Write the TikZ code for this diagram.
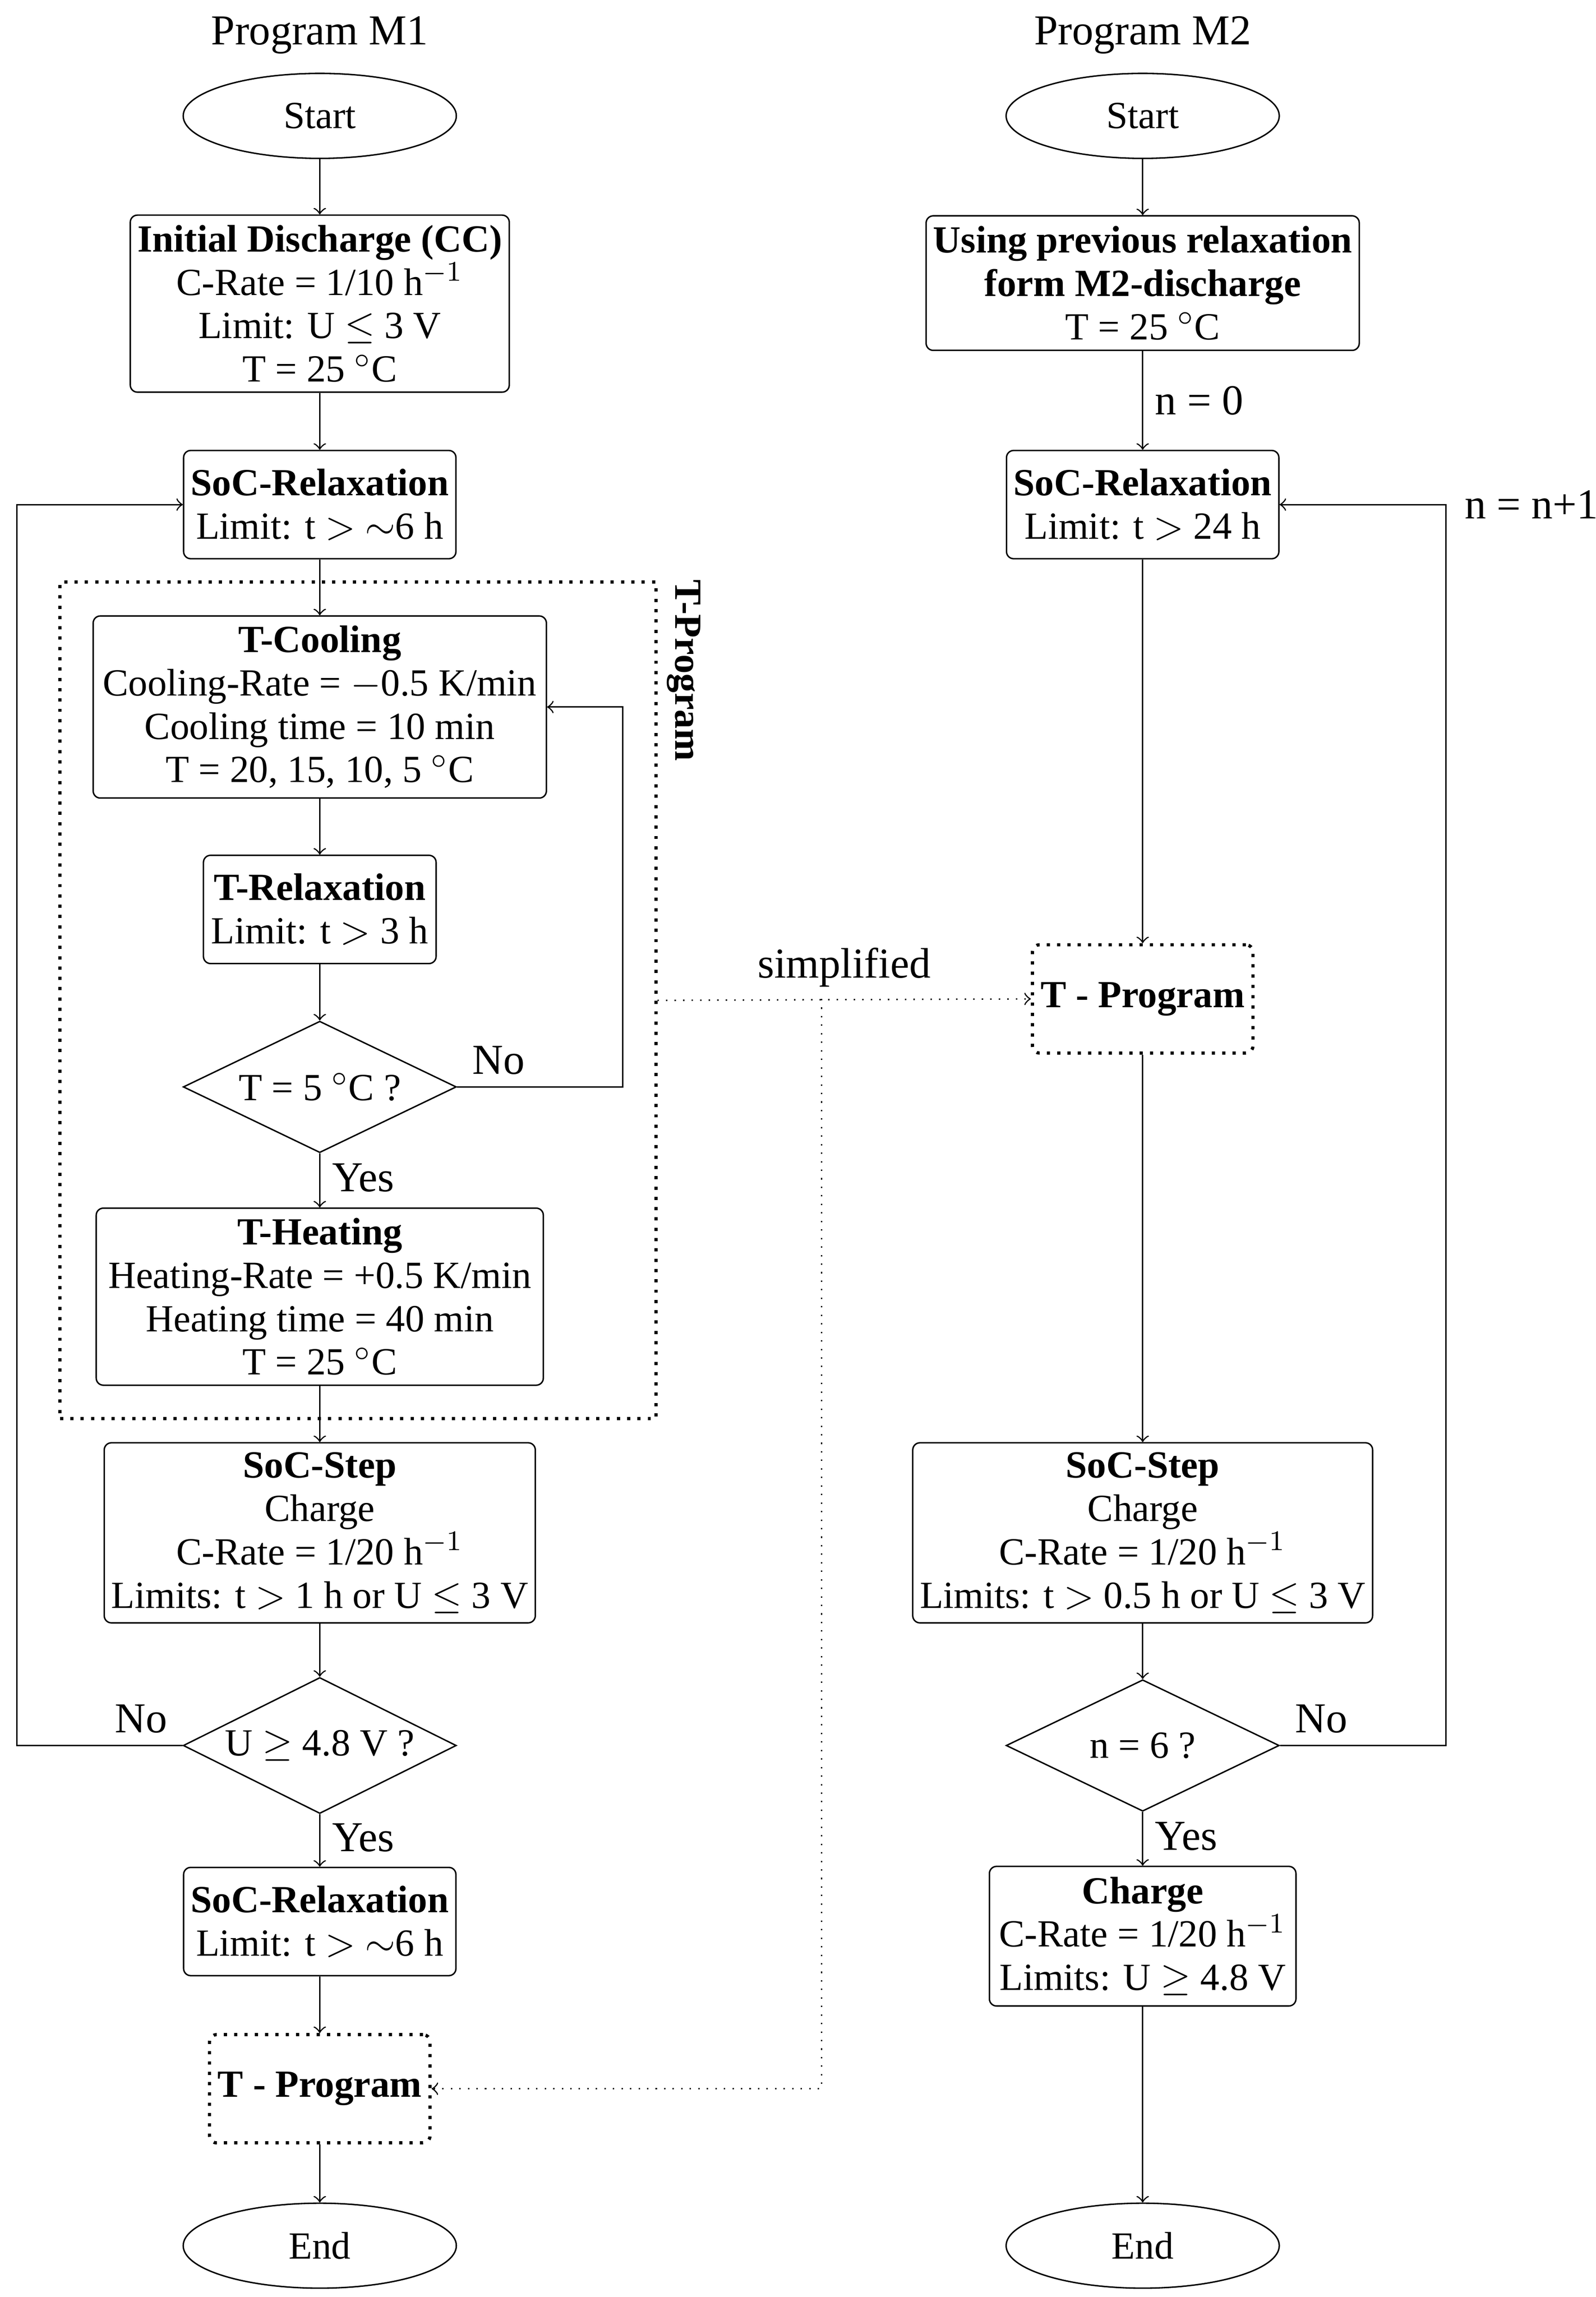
\documentclass[tikz,border=0pt]{standalone}
\usepackage{amsmath,amssymb}
\usepackage{fontspec}
\setmainfont{Liberation Serif}
\usepackage{tikz}
\usetikzlibrary{arrows,shapes.geometric,calc}

\begin{document}
\begin{tikzpicture}[x=0.145mm,y=-0.145mm,>=to,
  every node/.style={font=\fontsize{10.8}{12.2}\selectfont},
  box/.style={draw,rectangle,rounded corners=2pt,align=center,inner sep=2pt},
  dec/.style={draw,diamond,aspect=2,inner sep=1pt,minimum width=27mm,minimum height=13mm},
  term/.style={draw,ellipse,minimum width=27mm,minimum height=8.4mm},
  tbox/.style={box,dotted,line width=0.9pt,minimum width=21.8mm,minimum height=10.7mm,font=\fontsize{10.8}{12}\selectfont\bfseries},
  lbl/.style={font=\fontsize{12}{14}\selectfont}]
\useasboundingbox (0,0) rectangle (1088,1566);
%% Program M1
\node[lbl] (t1) at (218,24) {Program M1};
\node[term] (s1) at (218,79) {Start};
\node[box,minimum width=37mm,minimum height=17.5mm] (dis) at (218,207)
  {\textbf{Initial Discharge (CC)}\\C-Rate = 1/10 h$^{-1}$\\Limit: U $\leq$ 3 V\\T = 25 $^\circ$C};
\node[box,minimum width=26.8mm,minimum height=10.7mm] (rx1) at (218,344)
  {\textbf{SoC-Relaxation}\\Limit: t $>$ $\sim$6 h};
\node[draw,dotted,line width=0.9pt,minimum width=58.9mm,minimum height=82.7mm] (frame) at (244,682) {};
\node[rotate=-90,font=\fontsize{10.8}{12}\selectfont\bfseries] (flab) at (466,457) {T-Program};
\node[box,minimum width=44.8mm,minimum height=18mm] (cool) at (218,482)
  {\textbf{T-Cooling}\\Cooling-Rate = $-$0.5 K/min\\Cooling time = 10 min\\T = 20, 15, 10, 5 $^\circ$C};
\node[box,minimum width=23mm,minimum height=10.7mm] (trx) at (218,620)
  {\textbf{T-Relaxation}\\Limit: t $>$ 3 h};
\node[dec] (d1) at (218,741) {T = 5 $^\circ$C ?};
\node[box,minimum width=44.2mm,minimum height=17.5mm] (heat) at (218,884)
  {\textbf{T-Heating}\\Heating-Rate = +0.5 K/min\\Heating time = 40 min\\T = 25 $^\circ$C};
\node[box,minimum width=41.5mm,minimum height=17.8mm] (st1) at (218,1045)
  {\textbf{SoC-Step}\\Charge\\C-Rate = 1/20 h$^{-1}$\\Limits: t $>$ 1 h or U $\leq$ 3 V};
\node[dec] (d2) at (218,1190) {U $\geq$ 4.8 V ?};
\node[box,minimum width=26.8mm,minimum height=10.7mm] (rx2) at (218,1310)
  {\textbf{SoC-Relaxation}\\Limit: t $>$ $\sim$6 h};
\node[tbox] (tp1) at (218,1424) {T - Program};
\node[term] (e1) at (218,1531) {End};
%% Program M2
\node[lbl] (t2) at (779,24) {Program M2};
\node[term] (s2) at (779,79) {Start};
\node[box,minimum width=42.6mm,minimum height=13.3mm] (prev) at (779,193)
  {\textbf{Using previous relaxation}\\\textbf{form M2-discharge}\\T = 25 $^\circ$C};
\node[box,minimum width=26.8mm,minimum height=10.7mm] (rx3) at (779,344)
  {\textbf{SoC-Relaxation}\\Limit: t $>$ 24 h};
\node[tbox] (tp2) at (779,681) {T - Program};
\node[box,minimum width=44mm,minimum height=17.8mm] (st2) at (779,1045)
  {\textbf{SoC-Step}\\Charge\\C-Rate = 1/20 h$^{-1}$\\Limits: t $>$ 0.5 h or U $\leq$ 3 V};
\node[dec] (d3) at (779,1190) {n = 6 ?};
\node[box,minimum width=30.3mm,minimum height=13.8mm] (chg) at (779,1320)
  {\textbf{Charge}\\C-Rate = 1/20 h$^{-1}$\\Limits: U $\geq$ 4.8 V};
\node[term] (e2) at (779,1531) {End};
%% connectors M1
\draw[->] (s1) -- (dis);
\draw[->] (dis) -- (rx1);
\draw[->] (rx1) -- (cool);
\draw[->] (cool) -- (trx);
\draw[->] (trx) -- (d1);
\draw[->] (d1) -- node[right,lbl,pos=0.45] {Yes} (heat);
\draw[->] (d1.east) -- node[above,lbl,pos=0.25] {No} ++(113,0) |- (cool.east);
\draw[->] (heat) -- (st1);
\draw[->] (st1) -- (d2);
\draw[->] (d2) -- node[right,lbl,pos=0.45] {Yes} (rx2);
\draw[->] (d2.west) -- node[above,lbl,pos=0.25] {No} ++(-113,0) |- (rx1.west);
\draw[->] (rx2) -- (tp1);
\draw[->] (tp1) -- (e1);
%% connectors M2
\draw[->] (s2) -- (prev);
\draw[->] (prev) -- node[right,lbl] {n = 0} (rx3);
\draw[->] (rx3) -- (tp2);
\draw[->] (tp2) -- (st2);
\draw[->] (st2) -- (d3);
\draw[->] (d3) -- node[right,lbl,pos=0.45] {Yes} (chg);
\draw[->] (d3.east) -- node[above,lbl,pos=0.25] {No} ++(113,0) |- node[pos=0.52,right,lbl,inner sep=1pt,xshift=6] {n = n+1} (rx3.east);
\draw[->] (chg) -- (e2);
%% simplified
\coordinate (split) at (560,681);
\draw[->,dotted] (frame.east) -- node[above,lbl,pos=0.5] {simplified} (tp2.west);
\draw[->,dotted] (split) |- (tp1.east);
\end{tikzpicture}
\end{document}
